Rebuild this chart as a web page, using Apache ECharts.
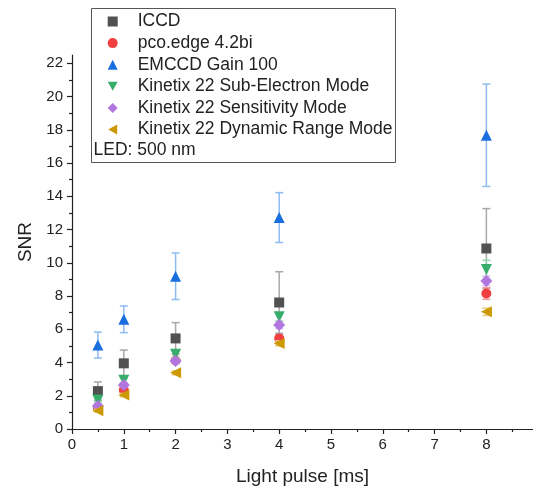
<!DOCTYPE html>
<html><head><meta charset="utf-8">
<script src="https://cdn.jsdelivr.net/npm/echarts@6/dist/echarts.min.js"></script>
<style>html,body{margin:0;padding:0;background:#fff}#c{width:533px;height:490px}</style>
</head><body><div id="c"></div>
<script>
const xValues = [0.5, 1, 2, 4, 8];
const names = ['ICCD', 'pco.edge 4.2bi', 'EMCCD Gain 100', 'Kinetix 22 Sub-Electron Mode', 'Kinetix 22 Sensitivity Mode', 'Kinetix 22 Dynamic Range Mode'];
const iccd = [2.28, 3.95, 5.45, 7.61, 10.86];
const iccdErr = [0.55, 0.8, 0.95, 1.85, 2.4];
const pco = [1.3, 2.34, 4.12, 5.45, 8.15];
const pcoErr = [0.1, 0.12, 0.15, 0.2, 0.35];
const emccd = [5.05, 6.6, 9.19, 12.72, 17.67];
const emccdErr = [0.78, 0.8, 1.4, 1.5, 3.08];
const kSub = [1.74, 2.94, 4.5, 6.75, 9.6];
const kSubErr = [0.12, 0.15, 0.2, 0.25, 0.55];
const kSens = [1.38, 2.64, 4.09, 6.25, 8.91];
const kSensErr = [0.1, 0.12, 0.15, 0.2, 0.28];
const kDyn = [1.1, 2.04, 3.38, 5.15, 7.05];
const kDynErr = [0.08, 0.1, 0.12, 0.15, 0.22];
const xTicks = [0, 1, 2, 3, 4, 5, 6, 7, 8];
const yTicks = [0, 2, 4, 6, 8, 10, 12, 14, 16, 18, 20, 22];

const values = [iccd, pco, emccd, kSub, kSens, kDyn];
const errs = [iccdErr, pcoErr, emccdErr, kSubErr, kSensErr, kDynErr];
const colors = ['#515151', '#F14040', '#1A6FDF', '#37AD6B', '#B177DE', '#CC9900'];
const errColors = ['#a8a8a8', '#f09a9a', '#8dbbf2', '#8fd4ab', '#d6b8f0', '#e8cc80'];
const symbols = ['rect', 'circle', 'triangle', 'path://M0,0L10,0L5,9Z', 'diamond', 'path://M9,0L9,10L0,5Z'];
const sizes = [10, 10, 11, 11, 12, 11];

function errRenderer(color) {
  return function (params, api) {
    const x = api.value(0), lo = api.value(1), hi = api.value(2);
    const a = api.coord([x, hi]), b = api.coord([x, lo]);
    const w = 4;
    const st = { stroke: color, lineWidth: 1.5 };
    return { type: 'group', children: [
      { type: 'line', shape: { x1: a[0], y1: a[1], x2: b[0], y2: b[1] }, style: st },
      { type: 'line', shape: { x1: a[0] - w, y1: a[1], x2: a[0] + w, y2: a[1] }, style: st },
      { type: 'line', shape: { x1: b[0] - w, y1: b[1], x2: b[0] + w, y2: b[1] }, style: st }
    ]};
  };
}

const series = [];
names.forEach((n, i) => {
  series.push({
    type: 'custom', name: n + ' err', z: 2 + i * 2,
    renderItem: errRenderer(errColors[i]),
    data: xValues.map((x, j) => [x, values[i][j] - errs[i][j], values[i][j] + errs[i][j]]),
    encode: { x: 0, y: [1, 2] }, silent: true
  });
  series.push({
    type: 'scatter', name: n, z: 3 + i * 2,
    symbol: symbols[i], symbolSize: sizes[i],
    itemStyle: { color: colors[i], opacity: 1 },
    data: xValues.map((x, j) => [x, values[i][j]])
  });
});

const axisCommon = {
  axisLine: { show: true, lineStyle: { color: '#222', width: 1.2 } },
  axisTick: { show: true, inside: false, length: 5, lineStyle: { color: '#222', width: 1.2 } },
  minorTick: { show: true, splitNumber: 2, length: 3, lineStyle: { color: '#222', width: 1.2 } },
  splitLine: { show: false },
  axisLabel: { color: '#222', fontSize: 15, fontFamily: 'Arial, Liberation Sans' },
  nameTextStyle: { color: '#222', fontSize: 19, fontFamily: 'Arial, Liberation Sans' },
  nameLocation: 'middle'
};

const chart = echarts.init(document.getElementById('c'));
chart.setOption({
  animation: false,
  backgroundColor: '#fff',
  grid: { left: 72, right: 0, top: 55, bottom: 61, containLabel: false, outerBoundsMode: 'none' },
  xAxis: Object.assign({}, axisCommon, {
    type: 'value', min: 0, max: 8.9, interval: 1, name: 'Light pulse [ms]', nameGap: 38,
    axisTick: Object.assign({}, axisCommon.axisTick, { customValues: xTicks }),
    axisLabel: Object.assign({}, axisCommon.axisLabel, { customValues: xTicks, margin: 8 })
  }),
  yAxis: Object.assign({}, axisCommon, {
    type: 'value', min: 0, max: 22.5, interval: 2, name: 'SNR', nameGap: 34,
    axisTick: Object.assign({}, axisCommon.axisTick, { customValues: yTicks }),
    axisLabel: Object.assign({}, axisCommon.axisLabel, { customValues: yTicks, margin: 9 })
  }),
  legend: {
    data: names, orient: 'vertical', left: 107.7, top: 12.5, padding: 0,
    itemWidth: 10, itemHeight: 10, itemGap: 3.6,
    textStyle: { color: '#222', fontSize: 17.5, lineHeight: 17, padding: [0, 0, 0, 15], fontFamily: 'Arial, Liberation Sans' },
    selectedMode: false
  },
  graphic: [
    { type: 'rect', shape: { x: 91.5, y: 8.5, width: 304, height: 154 }, style: { fill: 'none', stroke: '#555', lineWidth: 1 }, z: 10 },
    { type: 'text', x: 93.5, y: 150.5, style: { text: 'LED: 500 nm', fill: '#222', fontSize: 17.5, fontFamily: 'Arial, Liberation Sans', verticalAlign: 'middle' }, z: 10 }
  ],
  series: series
});
</script></body></html>
